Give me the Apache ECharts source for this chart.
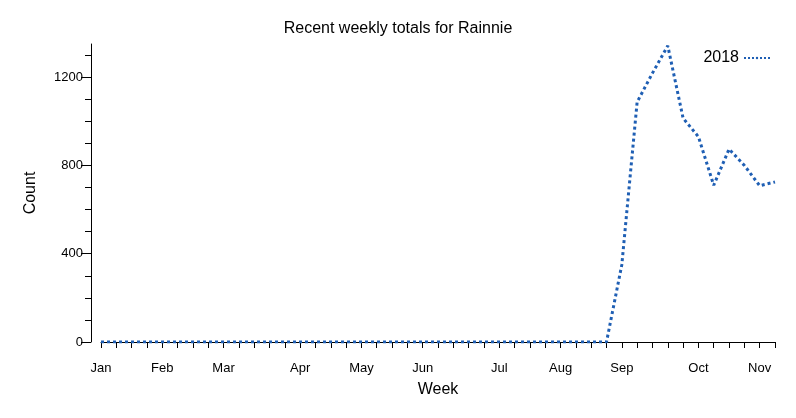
<!DOCTYPE html><html><head><meta charset="utf-8"><script src="https://cdn.jsdelivr.net/npm/echarts@6/dist/echarts.min.js"></script></head><body style="margin:0"><div id="c" style="width:796px;height:418px"></div><script>
const weeks = Array.from({length:45},(_,i)=>i);
const monthLabels = {0:'Jan',4:'Feb',8:'Mar',13:'Apr',17:'May',21:'Jun',26:'Jul',30:'Aug',34:'Sep',39:'Oct',43:'Nov'};
const counts2018 = [0,0,0,0,0,0,0,0,0,0,0,0,0,0,0,0,0,0,0,0,0,0,0,0,0,0,0,0,0,0,0,0,0,0,350,1087,1218,1342,1014,930,710,874,800,708,725];
const yTicks = [0,400,800,1200];
const font='Liberation Sans';
const chart = echarts.init(document.getElementById('c'));
chart.setOption({
 animation:false,
 title:{text:'Recent weekly totals for Rainnie',left:'center',top:16,textStyle:{fontFamily:font,fontSize:16,fontWeight:'normal',color:'#000'}},
 legend:{right:20,top:45,align:'right',itemWidth:26,itemHeight:3,itemGap:4,textStyle:{fontFamily:font,fontSize:16,color:'#000'},data:['2018']},
 grid:{left:101,right:21,top:44,bottom:76},
 xAxis:{type:'category',data:weeks,boundaryGap:false,offset:10,name:'Week',nameLocation:'middle',nameGap:30,nameTextStyle:{fontFamily:font,fontSize:16,color:'#000'},
  axisLine:{lineStyle:{color:'#000'}},
  axisTick:{interval:0,length:6,lineStyle:{color:'#000'}},
  axisLabel:{interval:(i)=>monthLabels[i]!==undefined,formatter:(v,i)=>monthLabels[i]||'',fontFamily:font,fontSize:13,color:'#000',margin:10},
  splitLine:{show:false}},
 yAxis:{type:'value',min:0,max:1350,offset:10,name:'Count',nameLocation:'middle',nameGap:52,nameTextStyle:{fontFamily:font,fontSize:16,color:'#000'},
  axisLine:{show:true,lineStyle:{color:'#000'}},
  axisTick:{show:true,length:10,lineStyle:{color:'#000'},customValues:yTicks},
  minorTick:{show:true,splitNumber:4,length:6,lineStyle:{color:'#000'}},
  axisLabel:{customValues:yTicks,formatter:(v)=>String(v),fontFamily:font,fontSize:13,color:'#000'},
  interval:400,splitLine:{show:false},minorSplitLine:{show:false}},
 series:[{name:'2018',type:'line',data:counts2018,showSymbol:false,symbol:'none',lineStyle:{type:'dotted',width:3,color:'#1f5fb4'},itemStyle:{color:'#1f5fb4'}}]
});
</script></body></html>
